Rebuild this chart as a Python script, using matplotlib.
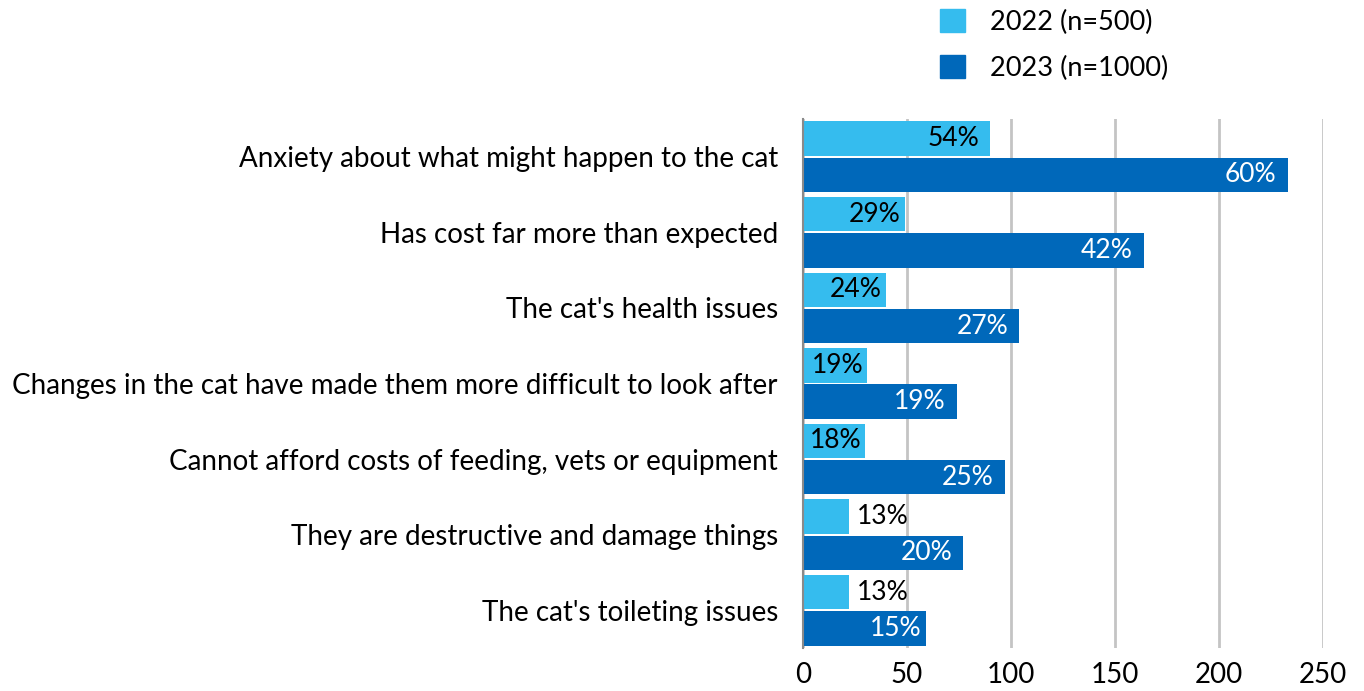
import numpy as np
import matplotlib.pyplot as plt
from matplotlib.patches import Patch

plt.rcParams['font.family'] = ['Lato', 'DejaVu Sans']

# Reasons given, top to bottom
reasons = [
    "Anxiety about what might happen to the cat",
    "Has cost far more than expected",
    "The cat's health issues",
    "Changes in the cat have made them more difficult to look after",
    "Cannot afford costs of feeding, vets or equipment",
    "They are destructive and damage things",
    "The cat's toileting issues",
]
# bar lengths (respondents) and the percentage labels shown on them
counts_2022 = [90, 49, 40, 31, 30, 22, 22]
counts_2023 = [233, 164, 104, 74, 97, 77, 59]
pct_2022 = ["54%", "29%", "24%", "19%", "18%", "13%", "13%"]
pct_2023 = ["60%", "42%", "27%", "19%", "25%", "20%", "15%"]
series_names = ["2022 (n=500)", "2023 (n=1000)"]
xticks = [0, 50, 100, 150, 200, 250]

light = "#35bcee"
dark = "#0068ba"

fig = plt.figure(figsize=(13.64, 6.91), dpi=100)
ax = fig.add_axes([803 / 1364, 1 - 648 / 691, 520 / 1364, 529 / 691])

y = np.arange(len(reasons))
h = 0.455
off = 0.24
b1 = ax.barh(y - off, counts_2022, height=h, color=light, zorder=3)
b2 = ax.barh(y + off, counts_2023, height=h, color=dark, zorder=3)

# percentage labels: inside the bar end when it fits, else just outside
for bars, labels, col in [(b1, pct_2022, "black"), (b2, pct_2023, "white")]:
    for bar, lab in zip(bars, labels):
        w = bar.get_width()
        yc = bar.get_y() + bar.get_height() / 2
        if w > 25:
            pad = -8 if w > 60 else -3
            ax.annotate(lab, (w, yc), xytext=(pad, 0), textcoords="offset points",
                        ha="right", va="center", fontsize=19, color=col, zorder=4)
        else:
            ax.annotate(lab, (w, yc), xytext=(6, 0), textcoords="offset points",
                        ha="left", va="center", fontsize=19, color="black", zorder=4)

ax.set_xlim(0, 250)
ax.set_ylim(len(reasons) - 0.5, -0.5)
ax.set_xticks(xticks)
ax.set_yticks(y)
ax.set_yticklabels(reasons)
ax.tick_params(axis="y", length=0, pad=18, labelsize=20)
ax.tick_params(axis="x", length=0, pad=10, labelsize=20)
ax.grid(axis="x", color="#c4c4c4", linewidth=2, zorder=0)
for s in ["top", "right", "bottom"]:
    ax.spines[s].set_visible(False)
ax.spines["left"].set_color("#8a8a8a")
ax.spines["left"].set_linewidth(1.5)
ax.spines["left"].set_zorder(5)

handles = [Patch(color=light), Patch(color=dark)]
fig.legend(handles, series_names, loc="upper left", bbox_to_anchor=(916 / 1364, 1.022),
           frameon=False, fontsize=19.5, handlelength=0.9, handleheight=0.9,
           handletextpad=0.95, labelspacing=0.75)

fig.savefig("out.png", dpi=100)
